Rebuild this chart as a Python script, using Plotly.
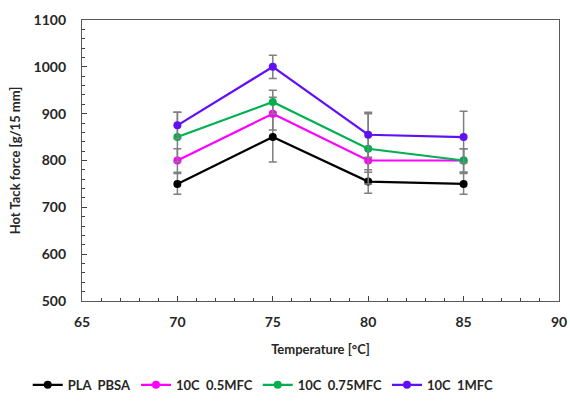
import plotly.graph_objects as go

temps = [70, 75, 80, 85]
series_names = ["PLA\u00a0\u00a0PBSA", "10C\u00a0\u00a00.5MFC", "10C\u00a0\u00a00.75MFC", "10C\u00a0\u00a01MFC"]
pla_pbsa = [750, 850, 755, 750]
c10_05 = [800, 900, 800, 800]
c10_075 = [850, 925, 825, 800]
c10_1 = [875, 1000, 855, 850]
err_pla_pbsa = [22, 53, 25, 22]
err_c10_05 = [25, 35, 25, 25]
err_c10_075 = [53, 25, 75, 25]
err_c10_1 = [28, 25, 48, 55]

colors = ["#000000", "#FF00FF", "#00B050", "#6010F5"]
values = [pla_pbsa, c10_05, c10_075, c10_1]
errors = [err_pla_pbsa, err_c10_05, err_c10_075, err_c10_1]

fig = go.Figure()
for name, v, e, c in zip(series_names, values, errors, colors):
    fig.add_trace(go.Scatter(
        x=temps, y=v, name=name, mode="lines+markers",
        line=dict(color=c, width=2.2),
        marker=dict(color=c, size=8, symbol="circle"),
        error_y=dict(type="data", array=e, visible=True, color="#7F7F7F", thickness=1.5, width=4),
    ))

font_fam = "Lato, 'Open Sans', sans-serif"
axis_common = dict(
    showline=True, linecolor="#595959", linewidth=1.3, mirror=True,
    showgrid=False, zeroline=False,
    ticks="inside", ticklen=5, tickwidth=1, tickcolor="#404040",
    tickfont=dict(family=font_fam, size=14, color="#262626", weight="bold"),
)
fig.update_layout(
    width=570, height=405,
    margin=dict(l=82, r=11, t=20, b=104, autoexpand=False),
    paper_bgcolor="white", plot_bgcolor="white",
    font=dict(family=font_fam, color="#262626"),
    showlegend=True,
    legend=dict(
        orientation="h", x=0.38, xanchor="center", y=-0.245, yanchor="top",
        font=dict(family=font_fam, size=13, color="#262626", weight="bold"),
        itemwidth=30, tracegroupgap=0,
    ),
    xaxis=dict(
        range=[65, 90], tick0=65, dtick=5,
        minor=dict(ticks="inside", ticklen=3, dtick=1, tickcolor="#404040"),
        ticklabelstandoff=8,
        title=dict(text="Temperature [°C]", font=dict(family=font_fam, size=13, weight="bold"), standoff=15),
        **axis_common,
    ),
    yaxis=dict(
        range=[500, 1100], tick0=500, dtick=100,
        minor=dict(ticks="inside", ticklen=3, dtick=20, tickcolor="#404040"),
        ticklabelstandoff=12,
        title=dict(text="Hot Tack force [g/15 mm]", font=dict(family=font_fam, size=13, weight="bold"), standoff=10),
        **axis_common,
    ),
)
fig.write_html("out.html")
